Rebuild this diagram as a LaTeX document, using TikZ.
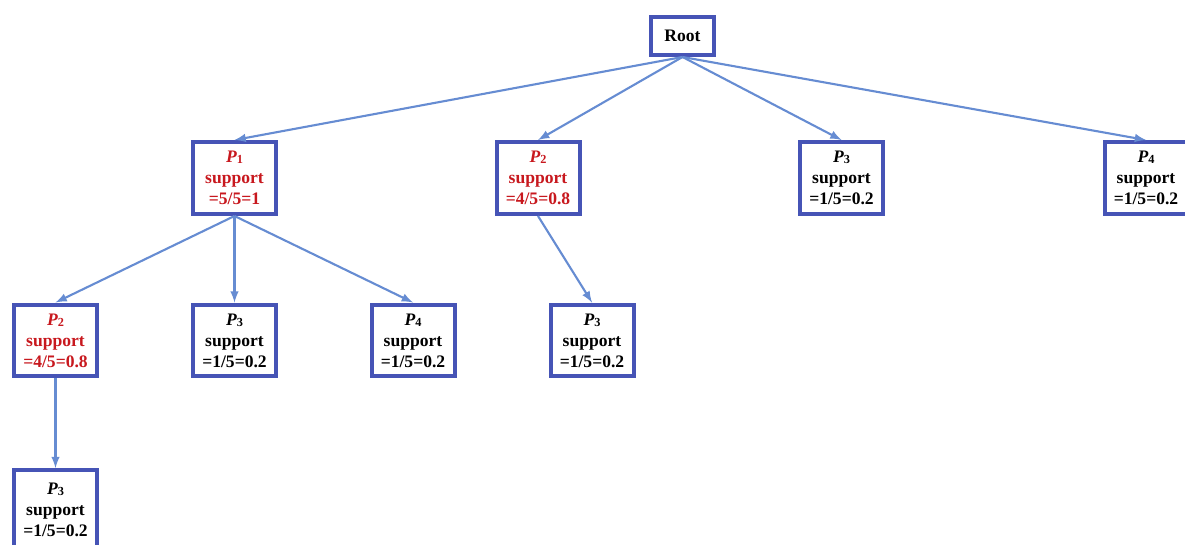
\documentclass[tikz,border=0pt]{standalone}
\usepackage{fontspec}
\setmainfont{Liberation Serif}
\definecolor{boxblue}{RGB}{70,84,182}
\definecolor{linkblue}{RGB}{102,140,210}
\definecolor{hotred}{RGB}{200,24,30}
\tikzset{>=latex}
\tikzset{
	box/.style = {draw = boxblue, line width = 0.08cm, fill = white, minimum width = 1.66cm, minimum height = 1.44cm, align = center, inner sep = 0pt, font = \bfseries},
	link/.style = {->, draw = linkblue, line width = 1.2pt}
}
\newcommand\pname[1]{\textit{P}\raisebox{-0.6pt}{\scriptsize #1}}
\newcommand\supp[2]{\pname{#1}\\support\\=#2}

\begin{document}
\begin{tikzpicture}[x = 0.02cm, y = -0.02cm]
	\useasboundingbox (0, 0) rectangle (1185, 544);
	\clip (0, 0) rectangle (1185, 544);
	\node[box, minimum width = 1.26cm, minimum height = 0.76cm] (root) at (682.5, 36) {Root};
	% first level
	\node[box, text = hotred] (p1) at (234.5, 178) {\supp{1}{5/5=1}};
	\node[box, text = hotred] (p2) at (538, 178) {\supp{2}{4/5=0.8}};
	\node[box] (p3) at (841.5, 178) {\supp{3}{1/5=0.2}};
	\node[box] (p4) at (1146, 178) {\supp{4}{1/5=0.2}};
	% second level
	\node[box, text = hotred] (p1p2) at (55.5, 340.5) {\supp{2}{4/5=0.8}};
	\node[box] (p1p3) at (234.5, 340.5) {\supp{3}{1/5=0.2}};
	\node[box] (p1p4) at (413, 340.5) {\supp{4}{1/5=0.2}};
	\node[box] (p2p3) at (592, 340.5) {\supp{3}{1/5=0.2}};
	% third level, cut by the lower edge
	\node[box, minimum height = 1.6cm] (p1p2p3) at (55.5, 510) {\supp{3}{1/5=0.2}};
	\draw[link] (root.south) -- (p1.north);
	\draw[link] (root.south) -- (p2.north);
	\draw[link] (root.south) -- (p3.north);
	\draw[link] (root.south) -- (p4.north);
	\draw[link] (p1.south) -- (p1p2.north);
	\draw[link] (p1.south) -- (p1p3.north);
	\draw[link] (p1.south) -- (p1p4.north);
	\draw[link] (p2.south) -- (p2p3.north);
	\draw[link] (p1p2.south) -- (p1p2p3.north);
\end{tikzpicture}
\end{document}
